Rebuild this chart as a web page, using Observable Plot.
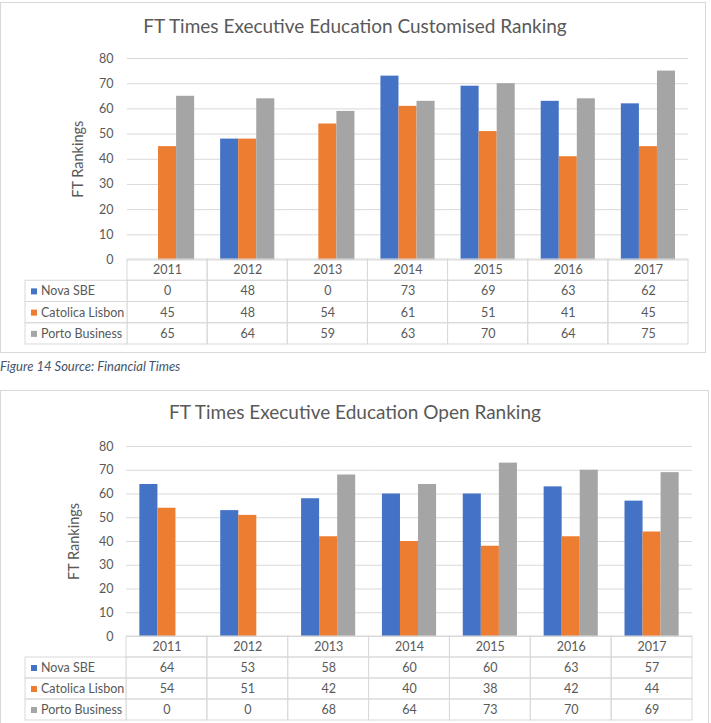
<!DOCTYPE html>
<html><head><meta charset="utf-8">
<script src="https://cdn.jsdelivr.net/npm/d3@7"></script>
<script src="https://cdn.jsdelivr.net/npm/@observablehq/plot@0.6"></script>
<style>
body{margin:0;background:#fff;font-family:Lato,"Open Sans",sans-serif;}
#root{position:relative;width:711px;height:723px;overflow:hidden;background:#fff}
.abs{position:absolute}
.box{position:absolute;border:1px solid #d9d9d9;box-sizing:border-box}
.title{position:absolute;color:#595959;font-size:19px;white-space:nowrap;transform:translateX(-50%)}
.cap{position:absolute;color:#44546A;font-style:italic;font-size:13px;white-space:nowrap}
</style></head><body><div id="root"></div>
<script>
const years = ["2011","2012","2013","2014","2015","2016","2017"];
const seriesNames = ["Nova SBE","Catolica Lisbon","Porto Business"];
const seriesColors = ["#4472C4","#ED7D31","#A5A5A5"];
const yTicks = [0,10,20,30,40,50,60,70,80];

const customNova = [0,48,0,73,69,63,62];
const customCatolica = [45,48,54,61,51,41,45];
const customPorto = [65,64,59,63,70,64,75];

const openNova = [64,53,58,60,60,63,57];
const openCatolica = [54,51,42,40,38,42,44];
const openPorto = [0,0,68,64,73,70,69];

const titleCustom = "FT Times Executive Education Customised Ranking";
const titleOpen = "FT Times Executive Education Open Ranking";
const yLabel = "FT Rankings";
const captionText = "Figure 14 Source: Financial Times";

const root = document.getElementById("root");
const TXT = "#595959", GRID = "#d9d9d9";
const FONT = "Lato, 'Open Sans', sans-serif";

function place(el, left, top) {
  el.classList.add("abs");
  el.style.left = left + "px";
  el.style.top = top + "px";
  root.appendChild(el);
}

function chart(cfg, seriesValues) {
  const rows = [];
  seriesNames.forEach((s, i) => years.forEach((y, j) => rows.push({series: s, year: y, value: seriesValues[i][j]})));

  const box = document.createElement("div");
  box.className = "box";
  box.style.left = cfg.box[0] + "px"; box.style.top = cfg.box[1] + "px";
  box.style.width = cfg.box[2] + "px"; box.style.height = cfg.box[3] + "px";
  root.appendChild(box);

  const t = document.createElement("div");
  t.className = "title";
  t.textContent = cfg.title;
  t.style.left = cfg.titleX + "px"; t.style.top = cfg.titleY + "px";
  root.appendChild(t);

  const top = cfg.y80 - 18;
  const bars = Plot.plot({
    width: 711,
    height: cfg.y0 - top,
    marginLeft: cfg.x0,
    marginRight: 711 - cfg.x1,
    marginTop: cfg.y80 - top,
    marginBottom: 0,
    style: {fontFamily: FONT, fontSize: "12.5px", color: TXT, background: "transparent", overflow: "visible"},
    fx: {domain: years, padding: 0, axis: null, round: false},
    x: {domain: seriesNames, paddingInner: 0, paddingOuter: cfg.pad, axis: null, round: false},
    y: {domain: [0, 80], axis: null},
    color: {domain: seriesNames, range: seriesColors},
    marks: [
      Plot.gridY(yTicks, {stroke: GRID, strokeOpacity: 1}),
      Plot.barY(rows, {fx: "year", x: "series", y: "value", fill: "series"}),
      Plot.axisY(yTicks, {tickSize: 0, tickPadding: cfg.x0 - 113, fontSize: 12.5, label: null}),
      Plot.axisY([], {tickSize: 0, fontSize: 14.5, label: yLabel, labelAnchor: "center", labelOffset: cfg.labelOffset, labelArrow: false})
    ]
  });
  place(bars, 0, top);

  const rowKeys = ["", ...seriesNames];
  const cells = [];
  years.forEach(y => cells.push({row: "", year: y, text: y}));
  rows.forEach(r => cells.push({row: r.series, year: r.year, text: String(r.value)}));
  const tH = cfg.tBottom - cfg.y0;
  const table = Plot.plot({
    width: 711 - cfg.x0 + 1,
    height: tH + 2,
    marginLeft: 1, marginRight: 711 - cfg.x1, marginTop: 1, marginBottom: 1,
    style: {fontFamily: FONT, fontSize: "12.5px", color: TXT, background: "transparent"},
    x: {domain: years, padding: 0, axis: null, round: false},
    y: {domain: rowKeys, padding: 0, axis: null, round: false},
    marks: [
      Plot.cell(cells, {x: "year", y: "row", fill: "none", stroke: GRID}),
      Plot.text(cells, {x: "year", y: "row", text: "text", fill: TXT, fontSize: 12.5})
    ]
  });
  place(table, cfg.x0 - 1, cfg.y0 - 1);

  const legend = Plot.plot({
    width: cfg.x0 - 24 + 1,
    height: tH + 2,
    marginLeft: 1, marginRight: 0, marginTop: 1, marginBottom: 1,
    style: {fontFamily: FONT, fontSize: "12.5px", color: TXT, background: "transparent"},
    y: {domain: rowKeys, padding: 0, axis: null, round: false},
    color: {domain: seriesNames, range: seriesColors},
    marks: [
      Plot.cell(seriesNames, {y: d => d, fill: "none", stroke: GRID}),
      Plot.dot(seriesNames, {y: d => d, frameAnchor: "left", dx: 8.5, symbol: "square", r: 3.4, fill: d => d, stroke: null}),
      Plot.text(seriesNames, {y: d => d, frameAnchor: "left", dx: 15.5, textAnchor: "start", fill: TXT, fontSize: 12.5})
    ]
  });
  place(legend, 24, cfg.y0 - 1);
}

chart({box: [0, 2, 706, 351], title: titleCustom, titleX: 355, titleY: 14,
       x0: 127, x1: 688, y80: 57.5, y0: 259, tBottom: 344, pad: 0.72, labelOffset: 55},
      [customNova, customCatolica, customPorto]);

const cap = document.createElement("div");
cap.className = "cap";
cap.textContent = captionText;
cap.style.left = "0px"; cap.style.top = "358px";
root.appendChild(cap);

chart({box: [0, 390, 709, 340], title: titleOpen, titleX: 355, titleY: 400,
       x0: 126, x1: 692, y80: 446, y0: 636, tBottom: 720, pad: 0.74, labelOffset: 58},
      [openNova, openCatolica, openPorto]);
</script></body></html>
